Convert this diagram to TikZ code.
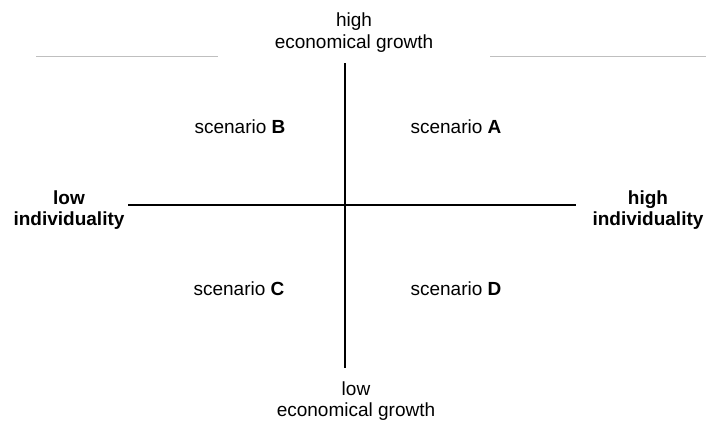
\documentclass[tikz,border=0pt]{standalone}
\usepackage{fontspec}
\setmainfont{Liberation Sans}
\usepackage{xcolor}

\tikzset{
	axis/.style={line width=1.3pt, black},
	rule/.style={line width=1pt, color=black!25},
	label/.style={inner sep=0pt, align=center, font=\fontsize{19}{21.5}\selectfont},
	scenario/.style={inner sep=0pt, anchor=base, font=\fontsize{19}{21.5}\selectfont}
}

\begin{document}
\begin{tikzpicture}[x=1pt, y=-1pt]
	\useasboundingbox (0, 0) rectangle (706, 424);

	% axis end points
	\coordinate (top) at (345, 63);
	\coordinate (bottom) at (345, 368);
	\coordinate (left) at (128, 205);
	\coordinate (right) at (576, 205);

	% thin grey rules next to the top label
	\coordinate (r1) at (36, 56);
	\coordinate (r2) at (218, 56);
	\coordinate (r3) at (490, 56);
	\coordinate (r4) at (706, 56);

	% Draw the axes
	\draw[axis] (top) -- (bottom);
	\draw[axis] (left) -- (right);

	\draw[rule] (r1) -- (r2);
	\draw[rule] (r3) -- (r4);

	% labels on the ends of the axes
	\node[label] (high growth) at (354, 32.5) {high\\economical growth};
	\node[label] (low growth) at (356, 401) {low\\economical growth};
	\node[label, font=\fontsize{19}{20.5}\selectfont\bfseries] (low ind) at (69, 210) {low\\individuality};
	\node[label, font=\fontsize{19}{20.5}\selectfont\bfseries] (high ind) at (648, 210) {high\\individuality};

	% the four quadrants
	\node[scenario] (sA) at (456, 133) {scenario \textbf{A}};
	\node[scenario] (sB) at (240, 133) {scenario \textbf{B}};
	\node[scenario] (sC) at (239, 295) {scenario \textbf{C}};
	\node[scenario] (sD) at (456, 295) {scenario \textbf{D}};
\end{tikzpicture}
\end{document}
